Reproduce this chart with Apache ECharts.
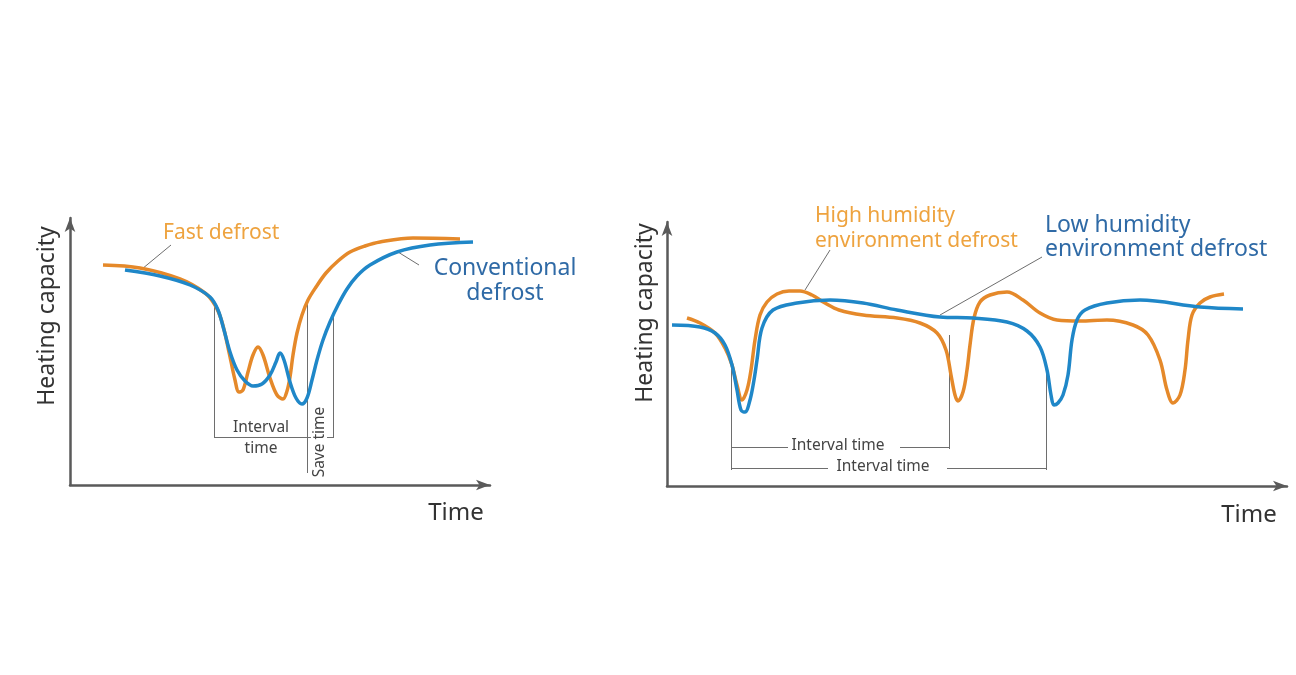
<!DOCTYPE html>
<html>
<head>
<meta charset="utf-8">
<script src="https://cdn.jsdelivr.net/npm/echarts@6/dist/echarts.min.js"></script>
<style>
  html, body { margin: 0; padding: 0; background: #fff; }
  #chart { width: 1296px; height: 675px; }
</style>
</head>
<body>
<div id="chart"></div>
<script>
// left panel: time / heating capacity (arbitrary units)
const fastDefrost = [
  [33, 220], [70, 217], [110, 206], [135, 192], [145, 180], [152, 163], [159, 133],
  [165, 105], [169, 93], [173, 95], [178, 113], [183, 130], [188, 138], [193, 130],
  [200, 107], [207, 90], [213, 86], [217, 94], [220, 108], [223, 130], [227, 152],
  [232, 170], [238, 185], [246, 198], [256, 212], [268, 224], [280, 233], [295, 239],
  [310, 243], [343, 247], [390, 246]
];
const conventional = [
  [55, 215], [90, 209], [120, 200], [140, 188], [148, 175], [154, 155], [160, 133],
  [167, 115], [175, 104], [183, 99], [192, 101], [200, 110], [206, 123], [210, 132],
  [214, 125], [220, 103], [226, 87], [232, 81], [237, 87], [242, 105], [247, 125],
  [253, 145], [260, 163], [268, 180], [277, 196], [287, 209], [300, 220], [327, 233],
  [360, 240], [403, 243]
];

// right panel
const highHumidity = [
  [20, 168], [33, 163], [48, 153], [58, 138], [65, 121], [70, 101], [75, 86], [80, 96],
  [84, 116], [88, 146], [93, 171], [100, 184], [110, 192], [122, 195], [133, 195],
  [145, 191], [158, 183], [172, 176], [196, 171], [230, 168], [253, 163], [270, 153], [279, 136],
  [284, 111], [288, 91], [291, 85], [296, 94], [300, 116], [303, 141], [307, 168],
  [313, 184], [323, 191], [340, 194], [356, 186], [373, 173], [390, 166], [413, 165],
  [440, 166], [466, 161], [481, 151], [493, 126], [500, 96], [506, 83], [513, 91],
  [518, 116], [521, 146], [525, 171], [533, 183], [543, 189], [557, 192]
];
const lowHumidity = [
  [5, 161], [33, 159], [48, 153], [58, 141], [65, 121], [70, 96], [74, 76], [78, 74],
  [83, 86], [87, 106], [90, 126], [95, 158], [106, 176], [130, 183], [163, 186],
  [196, 183], [230, 176], [273, 169], [306, 168], [340, 164], [360, 155], [373, 139],
  [380, 116], [384, 91], [387, 81], [391, 83], [396, 91], [401, 111], [405, 146],
  [410, 166], [418, 176], [440, 183], [473, 186], [533, 179], [576, 177]
];

// guide and leader segments
const leftGuides = [
  [[144, 182], [144, 47]], [[237, 182], [237, 12]], [[263, 170], [263, 47]],
  [[144, 48], [237, 48]], [[237, 48], [241, 48]], [[257, 48], [263, 48]],
  [[101, 240], [72, 216]], [[328, 233], [349, 220]]
];
const rightGuides = [
  [[64, 128], [64, 16]], [[282, 151], [282, 37]], [[379, 121], [379, 16]],
  [[64, 39], [121, 39]], [[233, 39], [282, 39]],
  [[64, 18], [161, 18]], [[280, 18], [379, 18]],
  [[163, 236], [138, 196]], [[375, 229], [273, 171]]
];

const ORANGE = '#e5892a';
const BLUE = '#1f87c8';
const FONT = '"Noto Sans", "Open Sans", sans-serif';

function axisStyle(max) {
  return {
    type: 'value', min: 0, max: max,
    axisLine: { show: true, symbol: ['none', 'arrow'], symbolSize: [8, 14], lineStyle: { color: '#5a5a5a', width: 2.5 } },
    axisTick: { show: false }, axisLabel: { show: false }, splitLine: { show: false }
  };
}

function curve(data, color, idx) {
  return {
    type: 'line', data: data, xAxisIndex: idx, yAxisIndex: idx,
    smooth: 0.35, showSymbol: false, lineStyle: { color: color, width: 3.5 }
  };
}

function guides(segs, idx) {
  return {
    type: 'lines', coordinateSystem: 'cartesian2d', xAxisIndex: idx, yAxisIndex: idx,
    data: segs.map(s => ({ coords: s })),
    lineStyle: { color: '#6e6e6e', width: 1, opacity: 1 }, silent: true
  };
}

function txt(text, x, y, size, color, align, rot) {
  return {
    type: 'text', x: x, y: y, rotation: rot || 0,
    style: { text: text, fill: color, font: size + 'px ' + FONT, align: align || 'left', verticalAlign: 'middle' }
  };
}

const chart = echarts.init(document.getElementById('chart'));
chart.setOption({
  animation: false,
  backgroundColor: '#ffffff',
  grid: [
    { left: 70, top: 218, width: 420, height: 267 },
    { left: 667, top: 222, width: 620, height: 264 }
  ],
  xAxis: [Object.assign(axisStyle(420), { gridIndex: 0 }), Object.assign(axisStyle(620), { gridIndex: 1 })],
  yAxis: [Object.assign(axisStyle(267), { gridIndex: 0 }), Object.assign(axisStyle(264), { gridIndex: 1 })],
  series: [
    guides(leftGuides, 0),
    guides(rightGuides, 1),
    curve(fastDefrost, ORANGE, 0),
    curve(conventional, BLUE, 0),
    curve(highHumidity, ORANGE, 1),
    curve(lowHumidity, BLUE, 1)
  ],
  graphic: [
    txt('Heating capacity', 47, 316, 23, '#333', 'center', Math.PI / 2),
    txt('Time', 456, 513, 24, '#333', 'center'),
    txt('Fast defrost', 163, 233, 21, '#eea33f'),
    txt('Conventional', 505, 268, 23, '#2f6aa6', 'center'),
    txt('defrost', 505, 293, 23, '#2f6aa6', 'center'),
    txt('Interval', 261, 428, 15.5, '#444', 'center'),
    txt('time', 261, 449, 15.5, '#444', 'center'),
    txt('Save time', 320, 442, 15.5, '#444', 'center', Math.PI / 2),
    txt('Heating capacity', 645, 313, 23, '#333', 'center', Math.PI / 2),
    txt('Time', 1249, 515, 24, '#333', 'center'),
    txt('High humidity', 815, 216, 21, '#eea33f'),
    txt('environment defrost', 815, 241, 21, '#eea33f'),
    txt('Low humidity', 1045, 225, 23, '#2f6aa6'),
    txt('environment defrost', 1045, 249, 23, '#2f6aa6'),
    txt('Interval time', 838, 446, 15.5, '#444', 'center'),
    txt('Interval time', 883, 467, 15.5, '#444', 'center')
  ]
});
</script>
</body>
</html>
